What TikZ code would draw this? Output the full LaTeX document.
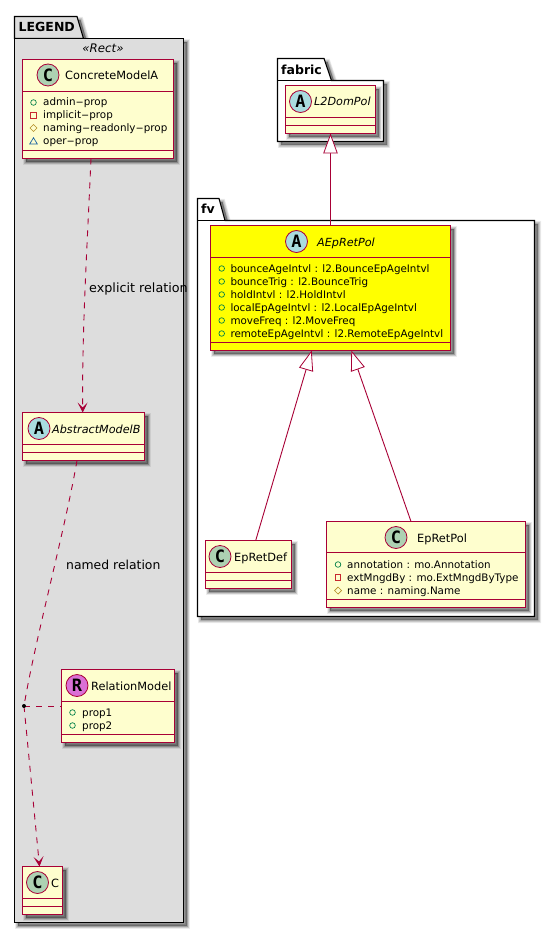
\documentclass[tikz,border=0pt]{standalone}
\usepackage{fontspec}
\setmainfont{DejaVu Sans}
\newfontfamily\spotfont{DejaVu Sans Mono}
\usetikzlibrary{arrows.meta,calc}
\definecolor{umlred}{HTML}{A80036}
\definecolor{umlfill}{HTML}{FEFECE}
\definecolor{umlyellow}{HTML}{FFFF00}
\definecolor{pkggray}{HTML}{DDDDDD}
\definecolor{spotC}{HTML}{ADD1B2}
\definecolor{spotA}{HTML}{A9DCDF}
\definecolor{spotR}{HTML}{DA70D6}
\definecolor{icoG}{HTML}{038048}
\definecolor{icoR}{HTML}{C82930}
\definecolor{icoY}{HTML}{B38D22}
\definecolor{icoB}{HTML}{1963A0}
\newcommand{\hy}{\scalebox{2.2}[1]{-}}
\tikzset{
  shadowlayer/.style={preaction={draw=black,fill=black,draw opacity=.075,fill opacity=.075,line width=#1,transform canvas={shift={(3.5pt,-3.5pt)}}}},
  softshadow/.style={shadowlayer=6pt,shadowlayer=4.8pt,shadowlayer=3.6pt,shadowlayer=2.4pt,shadowlayer=1.2pt,shadowlayer=0.4pt},
  pkgbox/.style={draw=black,line width=1.1pt,softshadow},
  clsbox/.style={draw=umlred,line width=1.1pt,softshadow,anchor=north west,inner sep=0pt,outer sep=0pt},
  clsline/.style={draw=umlred,line width=1pt},
  spot/.style={circle,draw=umlred,line width=.8pt,minimum size=22pt,inner sep=0pt,font=\fontsize{17}{17}\spotfont\bfseries\selectfont,text=black},
  nametext/.style={anchor=base west,inner sep=0pt,font=\fontsize{11.35}{12}\selectfont},
  italtext/.style={anchor=base west,inner sep=0pt,font=\fontsize{11.2}{12}\itshape\selectfont},
  attrtext/.style={anchor=base west,inner sep=0pt,font=\fontsize{10.35}{12}\selectfont},
  pkgtext/.style={anchor=base west,inner sep=0pt,font=\fontsize{12.5}{13}\bfseries\selectfont},
  edgetext/.style={anchor=base west,inner sep=0pt,font=\fontsize{12.4}{13}\selectfont},
  dep/.style={draw=umlred,line width=.9pt,dash pattern=on 6pt off 6pt},
  depto/.style={dep,-{Stealth[length=10pt,width=10pt,inset=5pt,fill=umlred]}},
  ext/.style={draw=umlred,line width=.9pt,-{Triangle[open,length=20pt,width=14.5pt,fill=white,line width=.8pt]}},
  icoO/.style={draw=icoG,line width=.7pt},
  icoS/.style={draw=icoR,line width=.7pt},
  icoD/.style={draw=icoY,line width=.7pt},
  icoT/.style={draw=icoB,line width=.7pt},
}
% id, x1,y1,x2,y2, line1, line2, fill
\newcommand{\clsnode}[8]{%
  \path let \n1={#4-#2},\n2={#5-#3} in
    node[clsbox,fill=#8,minimum width=\n1 pt,minimum height=\n2 pt] (#1) at (#2,#3) {};
  \draw[clsline] (#2,#6) -- (#4,#6);
  \draw[clsline] (#2,#7) -- (#4,#7);
}
\newcommand{\spotnode}[5]{\node[spot,fill=#4] (#1) at (#2,#3) {#5};}
\newcommand{\icoO}[2]{\draw[icoO] (#1,#2) circle (2.8pt);}
\newcommand{\icoS}[2]{\draw[icoS] (#1-2.8,#2-2.8) rectangle (#1+2.8,#2+2.8);}
\newcommand{\icoD}[2]{\draw[icoD] (#1-3.5,#2) -- (#1,#2-3.5) -- (#1+3.5,#2) -- (#1,#2+3.5) -- cycle;}
\newcommand{\icoT}[2]{\draw[icoT] (#1-3.8,#2+3) -- (#1,#2-3.3) -- (#1+3.8,#2+3) -- cycle;}
\begin{document}
\begin{tikzpicture}[x=1pt,y=-1pt]
\useasboundingbox (0,0) rectangle (555,933);
% packages
\draw[pkgbox,fill=pkggray] (14.5,38.5) -- (14.5,16.5) -- (77,16.5) -- (83.5,38.5) -- cycle;
\draw[pkgbox,fill=pkggray] (14.5,38.5) -- (183.5,38.5) -- (183.5,922.5) -- (14.5,922.5) -- cycle;
\node[pkgtext] (tLegend) at (18.5,32) {LEGEND};
\node[anchor=base,inner sep=0pt,font=\fontsize{11.8}{12}\itshape\selectfont] (tRect) at (103,53) {«Rect»};
\draw[pkgbox,fill=white] (277.5,80.5) -- (277.5,58.5) -- (324,58.5) -- (331.5,80.5) -- (383.5,80.5) -- (383.5,141.5) -- (277.5,141.5) -- cycle;
\draw[black,line width=1.1pt] (277.5,80.5) -- (331.5,80.5);
\node[pkgtext] (tFabric) at (281,74.3) {fabric};
\draw[pkgbox,fill=white] (197.5,220.5) -- (197.5,198.5) -- (219,198.5) -- (225,220.5) -- (534.5,220.5) -- (534.5,616.5) -- (197.5,616.5) -- cycle;
\draw[black,line width=1.1pt] (197.5,220.5) -- (225,220.5);
\node[pkgtext] (tFv) at (201,214) {fv};
% classes
\clsnode{concrete}{22.5}{59.5}{173.5}{158.5}{91.5}{150.5}{umlfill}
\spotnode{sConcrete}{48}{75}{spotC}{C}
\node[nametext] (nConcrete) at (65,79.5) {ConcreteModelA};
\icoO{33.5}{102.5}\icoS{33.5}{115.5}\icoD{33.5}{128}\icoT{33.5}{141}
\node[attrtext] (a1) at (43,106) {admin\hy prop};
\node[attrtext] (a2) at (43,119) {implicit\hy prop};
\node[attrtext] (a3) at (43,132) {naming\hy readonly\hy prop};
\node[attrtext] (a4) at (43,145) {oper\hy prop};
\clsnode{abstractb}{22.5}{412.5}{144.5}{460.5}{444.5}{452.5}{umlfill}
\spotnode{sAbstract}{39}{428.5}{spotA}{A}
\node[italtext] (nAbstract) at (52,433) {AbstractModelB};
\clsnode{relmodel}{61.5}{669.5}{174.5}{742.5}{701.5}{734.5}{umlfill}
\spotnode{sRel}{77}{685.5}{spotR}{R}
\node[nametext] (nRel) at (91,690) {RelationModel};
\icoO{72.5}{712.5}\icoO{72.5}{725.5}
\node[attrtext] (r1) at (82,716.5) {prop1};
\node[attrtext] (r2) at (82,729.5) {prop2};
\clsnode{classc}{22.5}{866.5}{62.5}{914.5}{898.5}{906.5}{umlfill}
\spotnode{sC}{37.5}{882.5}{spotC}{C}
\node[nametext] (nC) at (51,887) {C};
\clsnode{l2dom}{285.5}{85.5}{375.5}{133.5}{117.5}{125.5}{umlfill}
\spotnode{sL2}{300.5}{101.5}{spotA}{A}
\node[italtext] (nL2) at (314,106) {L2DomPol};
\clsnode{aep}{210.5}{225.5}{450.5}{350.5}{257.5}{342.5}{umlyellow}
\spotnode{sAep}{296.5}{241.5}{spotA}{A}
\node[italtext] (nAep) at (317,246) {AEpRetPol};
\icoO{221.7}{268.5}\icoO{221.7}{281.5}\icoO{221.7}{294.5}\icoO{221.7}{307.5}\icoO{221.7}{320.5}\icoO{221.7}{333.5}
\node[attrtext] (e1) at (230.3,272.5) {bounceAgeIntvl : l2.BounceEpAgeIntvl};
\node[attrtext] (e2) at (230.3,285.5) {bounceTrig : l2.BounceTrig};
\node[attrtext] (e3) at (230.3,298.5) {holdIntvl : l2.HoldIntvl};
\node[attrtext] (e4) at (230.3,311.5) {localEpAgeIntvl : l2.LocalEpAgeIntvl};
\node[attrtext] (e5) at (230.3,324.5) {moveFreq : l2.MoveFreq};
\node[attrtext] (e6) at (230.3,337.5) {remoteEpAgeIntvl : l2.RemoteEpAgeIntvl};
\clsnode{epdef}{205.5}{540.5}{291.5}{588.5}{572.5}{580.5}{umlfill}
\spotnode{sDef}{220}{556.5}{spotC}{C}
\node[nametext] (nDef) at (234,561) {EpRetDef};
\clsnode{eppol}{326.5}{521.5}{525.5}{607.5}{552.5}{599.5}{umlfill}
\spotnode{sPol}{396}{537.5}{spotC}{C}
\node[nametext] (nPol) at (417,542) {EpRetPol};
\icoO{338}{564.5}\icoS{338}{577.5}\icoD{338}{590.5}
\node[attrtext] (p1) at (347,568.5) {annotation : mo.Annotation};
\node[attrtext] (p2) at (347,581.5) {extMngdBy : mo.ExtMngdByType};
\node[attrtext] (p3) at (347,594.5) {name : naming.Name};
% connectors
\coordinate (pt) at (24,706);
\draw[depto] ([xshift=-7pt]concrete.south) .. controls (87,250) and (82,330) .. ([xshift=-0.8pt]abstractb.north);
\draw[dep] ([xshift=-6.5pt]abstractb.south) .. controls (65,530) and (35,640) .. (pt);
\draw[dep] (pt) -- (relmodel.west |- pt);
\draw[depto] (pt) -- ([xshift=-3pt]classc.north);
\draw[ext] (aep.north) -- (l2dom.south);
\draw[ext] ([xshift=7.2pt]epdef.north) -- ([xshift=-18.8pt]aep.south);
\draw[ext] ([xshift=-15pt]eppol.north) -- ([xshift=20.8pt]aep.south);
% relation point
\node[circle,fill=black,inner sep=0pt,minimum size=4pt] (ptdot) at (pt) {};
% edge labels
\node[edgetext,font=\fontsize{12.75}{13}\selectfont] (lExplicit) at (89,292) {explicit relation};
\node[edgetext] (lNamed) at (66,569.5) {named relation};
\end{tikzpicture}
\end{document}
